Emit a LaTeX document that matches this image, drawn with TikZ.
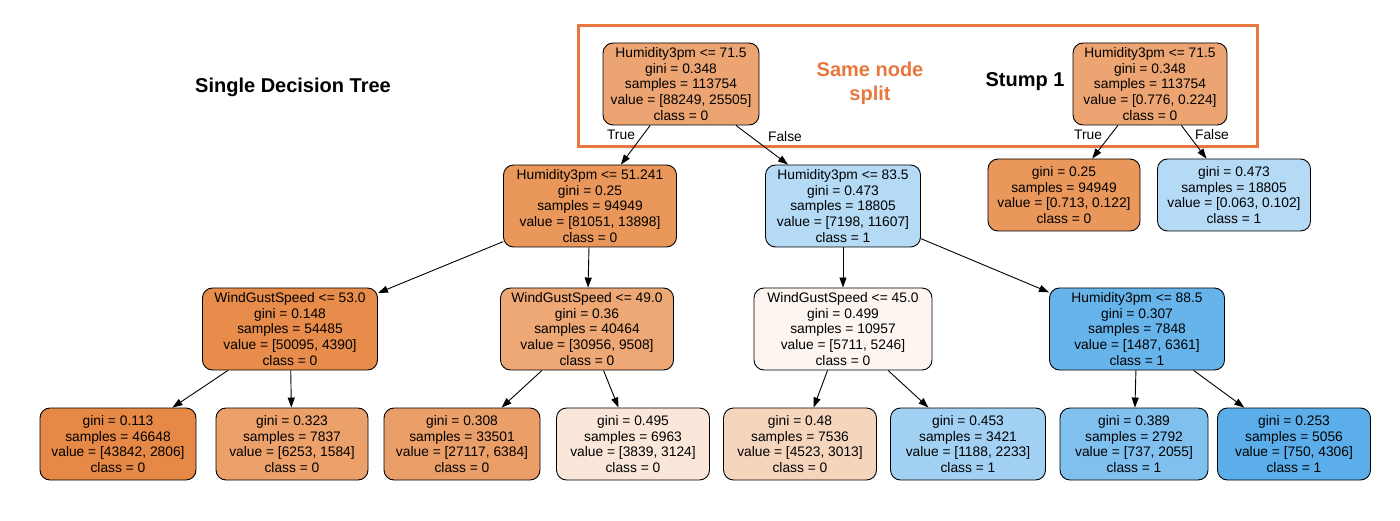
\documentclass[tikz,border=0pt]{standalone}
\usepackage{fontspec}
\setmainfont{Liberation Sans}
\usetikzlibrary{arrows.meta}
\definecolor{cRoot}{HTML}{ECA572}
\definecolor{cLA}{HTML}{E9975B}
\definecolor{cLB}{HTML}{B4DAF5}
\definecolor{cA}{HTML}{E78C4A}
\definecolor{cB}{HTML}{EDA876}
\definecolor{cC}{HTML}{FDF5EF}
\definecolor{cD}{HTML}{67B4EB}
\definecolor{cL1}{HTML}{E78946}
\definecolor{cL2}{HTML}{ECA16B}
\definecolor{cL3}{HTML}{EB9F68}
\definecolor{cL4}{HTML}{FAE7DA}
\definecolor{cL5}{HTML}{F6D5BD}
\definecolor{cL6}{HTML}{A2D1F3}
\definecolor{cL7}{HTML}{80C0EE}
\definecolor{cL8}{HTML}{5BAEE9}
\definecolor{hiOrange}{HTML}{E8773D}
\tikzset{
  tn/.style={draw=black, line width=0.9pt, rounded corners=10pt, align=center,
    inner sep=0pt, font=\fontsize{13.8}{15.6}\selectfont},
  inner/.style={tn, minimum height=82pt},
  leaf/.style={tn, minimum height=72pt},
  edge/.style={-{Triangle[length=10pt,width=7pt]}, line width=0.9pt},
  lbl/.style={font=\fontsize{13.8}{15.6}\selectfont, inner sep=0pt},
  ttl/.style={font=\fontsize{20}{24}\selectfont\bfseries, inner sep=0pt, align=center},
}
\begin{document}
\begin{tikzpicture}[x=1pt,y=-1pt]
\useasboundingbox (0,0) rectangle (1400,521);
% highlight rectangle
\draw[hiOrange, line width=3pt] (578,26) rectangle (1257,147);
% titles
\node[ttl] (title) at (293,87) {Single Decision Tree};
\node[ttl, text=hiOrange] (same) at (870,83) {Same node\\split};
\node[ttl] (stump) at (1025,82) {Stump 1};
% single tree
\node[inner, fill=cRoot, minimum width=156pt] (r) at (681,84)
  {Humidity3pm <= 71.5\\gini = 0.348\\samples = 113754\\value = [88249, 25505]\\class = 0};
\node[inner, fill=cLA, minimum width=173pt] (a) at (590,206)
  {Humidity3pm <= 51.241\\gini = 0.25\\samples = 94949\\value = [81051, 13898]\\class = 0};
\node[inner, fill=cLB, minimum width=155pt] (b) at (843,206)
  {Humidity3pm <= 83.5\\gini = 0.473\\samples = 18805\\value = [7198, 11607]\\class = 1};
\node[inner, fill=cA, minimum width=175pt] (aa) at (290,329)
  {WindGustSpeed <= 53.0\\gini = 0.148\\samples = 54485\\value = [50095, 4390]\\class = 0};
\node[inner, fill=cB, minimum width=173pt] (ab) at (587,329)
  {WindGustSpeed <= 49.0\\gini = 0.36\\samples = 40464\\value = [30956, 9508]\\class = 0};
\node[inner, fill=cC, minimum width=178pt] (ba) at (843,329)
  {WindGustSpeed <= 45.0\\gini = 0.499\\samples = 10957\\value = [5711, 5246]\\class = 0};
\node[inner, fill=cD, minimum width=175pt] (bb) at (1137,329)
  {Humidity3pm <= 88.5\\gini = 0.307\\samples = 7848\\value = [1487, 6361]\\class = 1};
\node[leaf, fill=cL1, minimum width=156pt] (l1) at (118,444)
  {gini = 0.113\\samples = 46648\\value = [43842, 2806]\\class = 0};
\node[leaf, fill=cL2, minimum width=152pt] (l2) at (292,444)
  {gini = 0.323\\samples = 7837\\value = [6253, 1584]\\class = 0};
\node[leaf, fill=cL3, minimum width=156pt] (l3) at (462,444)
  {gini = 0.308\\samples = 33501\\value = [27117, 6384]\\class = 0};
\node[leaf, fill=cL4, minimum width=153pt] (l4) at (633,444)
  {gini = 0.495\\samples = 6963\\value = [3839, 3124]\\class = 0};
\node[leaf, fill=cL5, minimum width=153pt] (l5) at (800,444)
  {gini = 0.48\\samples = 7536\\value = [4523, 3013]\\class = 0};
\node[leaf, fill=cL6, minimum width=155pt] (l6) at (968,444)
  {gini = 0.453\\samples = 3421\\value = [1188, 2233]\\class = 1};
\node[leaf, fill=cL7, minimum width=148pt] (l7) at (1134,444)
  {gini = 0.389\\samples = 2792\\value = [737, 2055]\\class = 1};
\node[leaf, fill=cL8, minimum width=153pt] (l8) at (1294,444)
  {gini = 0.253\\samples = 5056\\value = [750, 4306]\\class = 1};
% stump
\node[inner, fill=cRoot, minimum width=154pt] (s) at (1150,84)
  {Humidity3pm <= 71.5\\gini = 0.348\\samples = 113754\\value = [0.776, 0.224]\\class = 0};
\node[leaf, fill=cLA, minimum width=152pt] (sa) at (1064,195)
  {gini = 0.25\\samples = 94949\\value = [0.713, 0.122]\\class = 0};
\node[leaf, fill=cLB, minimum width=153pt] (sb) at (1234,195)
  {gini = 0.473\\samples = 18805\\value = [0.063, 0.102]\\class = 1};
% edges
\draw[edge] (r) -- (a);
\draw[edge] (r) -- (b);
\draw[edge] (a) -- (aa);
\draw[edge] (a) -- (ab);
\draw[edge] (b) -- (ba);
\draw[edge] (b) -- (bb);
\draw[edge] (aa) -- (l1);
\draw[edge] (aa) -- (l2);
\draw[edge] (ab) -- (l3);
\draw[edge] (ab) -- (l4);
\draw[edge] (ba) -- (l5);
\draw[edge] (ba) -- (l6);
\draw[edge] (bb) -- (l7);
\draw[edge] (bb) -- (l8);
\draw[edge] (s) -- (sa);
\draw[edge] (s) -- (sb);
% edge labels
\node[lbl] (tT) at (621,135) {True};
\node[lbl] (tF) at (785,137) {False};
\node[lbl] (sT) at (1088,135) {True};
\node[lbl] (sF) at (1212,135) {False};
\end{tikzpicture}
\end{document}
